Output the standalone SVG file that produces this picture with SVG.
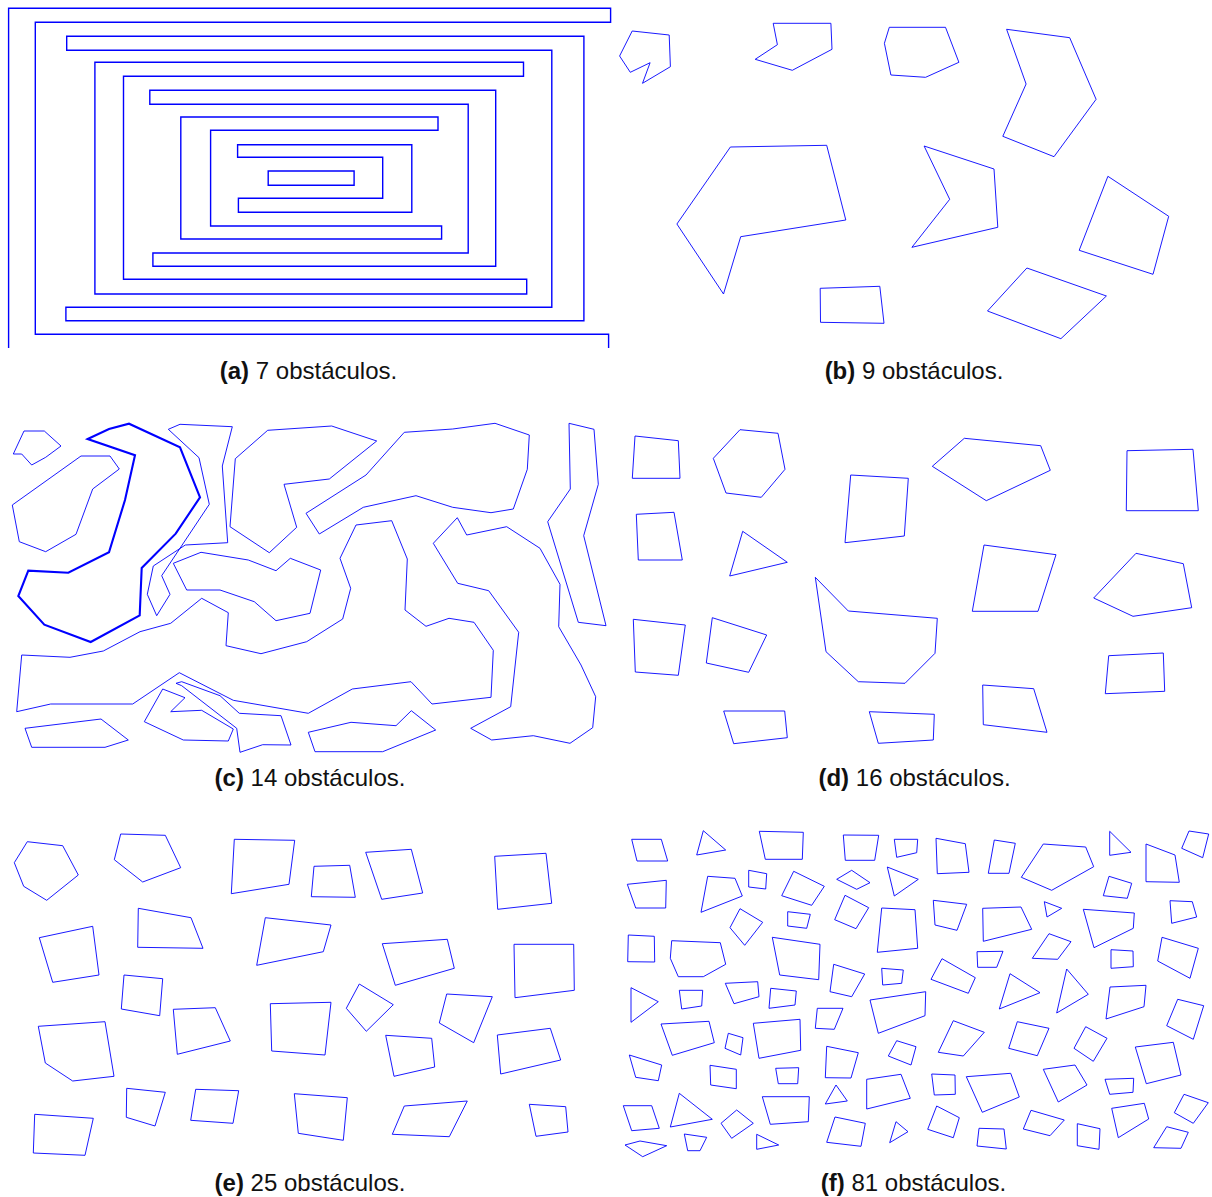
<svg xmlns="http://www.w3.org/2000/svg" width="1212" height="1197" viewBox="0 0 1212 1197">
<style>
polygon,polyline{fill:none;stroke:#0000ff;stroke-width:0.9;stroke-linejoin:miter}
.ma polygon,.ma polyline{stroke-width:1.4}
.thick{stroke-width:2.1 !important}
text{font-family:"Liberation Sans",Arial,sans-serif;font-size:24px;fill:#111;text-anchor:middle}
.lb{font-weight:bold}
</style>
<rect width="1212" height="1197" fill="#fff"/>
<g id="panel-a" class="ma">
<g id="a1"><polyline points="8.6,348 8.6,8.3 610.6,8.3 610.6,22.3 35.3,22.3 35.3,334.3 608.6,334.3 608.6,348"/></g>
<g id="a2"><polygon points="66.7,36.3 583.9,36.3 583.9,320.7 65.9,320.7 65.9,307.3 551.8,307.3 551.8,50.3 66.7,50.3"/></g>
<g id="a3"><polygon points="94.9,62.3 523.5,62.3 523.5,76.3 123.5,76.3 123.5,279.3 526.7,279.3 526.7,294 94.9,294"/></g>
<g id="a4"><polygon points="149.8,90.3 495.7,90.3 495.7,266.3 152.9,266.3 152.9,253 468.2,253 468.2,104.3 149.8,104.3"/></g>
<g id="a5"><polygon points="180.8,117 438,117 438,130.3 210.6,130.3 210.6,226 441.6,226 441.6,239 180.8,239"/></g>
<g id="a6"><polygon points="237.6,144.7 411.8,144.7 411.8,212.3 238.4,212.3 238.4,198.3 382.7,198.3 382.7,157.3 237.6,157.3"/></g>
<g id="a7"><polygon points="268.2,171 354.1,171 354.1,185.3 268.2,185.3"/></g>
</g>
<g id="panel-b">
<g id="b1"><polygon points="619.6,56 632.2,31 669.2,35 670.4,66.7 642.5,83.3 650.1,62.7 630.3,72.3"/></g>
<g id="b2"><polygon points="773.2,23.3 830.9,23.3 832,49.3 792.3,70.3 755.2,59.3 777.4,44.7"/></g>
<g id="b3"><polygon points="889.3,27.3 945.5,27.3 958.9,62.3 925.6,77.3 890.9,75 884.4,43.3"/></g>
<g id="b4"><polygon points="1006.6,29.3 1069.7,37.7 1096.1,99.3 1054,156.7 1002.8,136.3 1026.1,84"/></g>
<g id="b5"><polygon points="730.4,147 826.7,145.3 845.8,220 740.7,236.7 723.5,294 676.9,224"/></g>
<g id="b6"><polygon points="924.1,146 994,169 997.8,227.3 911.9,247.3 949.7,199.3"/></g>
<g id="b7"><polygon points="1107.9,176.3 1168.7,216.3 1153,274.3 1079.2,250.3"/></g>
<g id="b8"><polygon points="820.2,288.3 879.8,286.3 884,323.3 820.5,322.3"/></g>
<g id="b9"><polygon points="1026.9,268 1106.4,296 1060.9,338.7 987.5,311"/></g>
</g>
<g id="panel-c">
<g id="c1"><polygon points="13.3,454 24,431 44.3,431 61,446 45.7,457.3 31.7,465 21.7,454"/></g>
<g id="c2"><polygon points="12.3,505 81,456 110,456 119.3,469 92.7,489 76,534.3 45.7,551.7 19.3,541.7"/></g>
<g id="c3"><polygon class="thick" points="87.7,439 109,429 129,423.7 180,447.3 200,497.3 175.7,533.7 141.7,568 139.7,615.3 90.7,642 44.3,624.7 18.3,596 28.3,570.7 68.3,572.7 109,552.3 125,500 135,455.3"/></g>
<g id="c4"><polygon points="168.3,429.3 180,424.3 232.3,426.7 222.3,466 227.7,542.7 185.3,545 153.3,566 147.3,594.3 156.7,615.7 170,594.3 161.7,575.7 209.3,504.3 199,457.7"/></g>
<g id="c5"><polygon points="173.3,563.3 201,552.3 248.3,560 276,570.7 290.3,558.3 320.7,570 310,613.3 276,620.7 254.3,601.7 220,590 186.7,590"/></g>
<g id="c6"><polygon points="21.7,655 70,657.3 103.3,651 140,631.7 170.7,623.3 201.7,598.3 228.3,612.7 226,645.7 261,653.7 306.7,641.7 342.7,619 350.7,588.3 340,558.3 356,525 391.7,520.7 407.3,559 405,610 426,626.3 449,618.3 474,622.3 493.3,650.3 491,697.3 432,704 411,681.7 352.3,689 308.3,713.3 233.3,700.3 179.3,672.7 132.7,704 50.7,704 16.7,711.7"/></g>
<g id="c7"><polygon points="25,728.3 101,719 128.3,740 105,747.3 31.7,747.3"/></g>
<g id="c8"><polygon points="162.7,689 185,697.7 170.7,711.7 201.7,710.3 233.3,729 228.3,741 183.3,740 144.3,721.7"/></g>
<g id="c9"><polygon points="176,683.3 181.7,681.7 220,695.7 239.3,713.3 281,715.7 291,745 262.7,744.7 240,752.3 236.7,728.3 181.7,685.7"/></g>
<g id="c10"><polygon points="230,526.7 235.3,458.7 267.7,430.3 331.7,426 376.7,441 329.3,479 284,484.3 296.7,527.3 269.3,552.7"/></g>
<g id="c11"><polygon points="404.3,432.3 452.7,429 495,423.3 529.3,435 527.3,469.3 513.3,509 491,512.7 452.7,507.3 416,495.7 363.3,507.3 319.3,534 306,513.3 366,475"/></g>
<g id="c12"><polygon points="457.3,517.7 466.7,535 506.7,526.7 540,548.3 560,584.3 558.7,626.7 581,665 595.7,696.7 592.7,727.7 570,743.3 533.3,735.7 491.7,740 470.7,728.3 510.7,706.7 518.7,632.3 488.7,590.7 457.7,583.3 433.3,543.3"/></g>
<g id="c13"><polygon points="569,423.3 594,429.3 598.3,484.3 583.7,535.7 606,625.7 578.3,622.3 547.7,521.7 570.3,489"/></g>
<g id="c14"><polygon points="308.3,732.3 351,722.3 396,725.7 411.3,710.7 435.7,730 382.7,751.7 315,751.7"/></g>
</g>
<g id="panel-d">
<g id="d1"><polygon points="635,436 678.3,440.7 680,478.3 632.3,478.3"/></g>
<g id="d2"><polygon points="740,429.7 778,433.3 785,469.3 761.3,497.3 726,493 713.3,458.3"/></g>
<g id="d3"><polygon points="850.7,475 908.3,478.3 904.3,536 845,542.7"/></g>
<g id="d4"><polygon points="636.3,514.3 674,512.3 682.3,560 638.3,560"/></g>
<g id="d5"><polygon points="742.7,531.3 787.3,562.3 729.7,576"/></g>
<g id="d6"><polygon points="815.3,577.3 848.3,611 937.3,618.3 935,653.3 905,683.3 858.3,681.7 826,651.7"/></g>
<g id="d7"><polygon points="633.3,619.3 685.3,625 678.3,675.3 635.3,672"/></g>
<g id="d8"><polygon points="712.3,617.7 766.7,635 748.7,672.3 706.3,663"/></g>
<g id="d9"><polygon points="723.7,711 784.7,711 787.3,737.7 733.7,743.7"/></g>
<g id="d10"><polygon points="869.3,711.7 934.3,714.3 933.3,740 878.3,743.3"/></g>
<g id="d11"><polygon points="964.3,438.3 1040.7,445.7 1050.3,470.3 986.3,500.7 932.3,466.3"/></g>
<g id="d12"><polygon points="1127,450.7 1193,449.3 1198.3,510.7 1126.3,510.7"/></g>
<g id="d13"><polygon points="984,545 1056,554.7 1038,611.3 972.3,611.3"/></g>
<g id="d14"><polygon points="1136,553.3 1183.3,563.7 1191.7,607.7 1133,616.3 1093.7,598"/></g>
<g id="d15"><polygon points="1108.7,655.7 1163.3,653 1164.7,691.3 1105.3,693.7"/></g>
<g id="d16"><polygon points="982.7,685 1033.7,688.7 1047,732.3 983.3,724.7"/></g>
</g>
<g id="panel-e">
<g id="e1"><polygon points="27.3,841.7 62.7,845.7 78.3,875 46.7,900.3 23.7,886.3 14.3,862.7"/></g>
<g id="e2"><polygon points="120.7,834 165.3,835.3 180.7,867.7 142.7,882 114.3,859.7"/></g>
<g id="e3"><polygon points="234.3,839.3 294.7,840.3 289,884.3 231.3,893.7"/></g>
<g id="e4"><polygon points="138.3,908.3 191,917.7 203,948.3 137.7,947.3"/></g>
<g id="e5"><polygon points="39.3,937.7 92.7,926.3 99,975 52.7,982.3"/></g>
<g id="e6"><polygon points="265.3,917.7 331,925 323.3,951.7 256.7,965.3"/></g>
<g id="e7"><polygon points="124,975 162.7,978.7 159.7,1015.7 121.3,1009"/></g>
<g id="e8"><polygon points="173.3,1009.3 215.3,1007.7 230.3,1041 177.3,1054.3"/></g>
<g id="e9"><polygon points="270.3,1003.7 331,1002.3 325,1055 271.7,1051"/></g>
<g id="e10"><polygon points="38.3,1026.3 105,1021.7 114,1076.3 72.7,1081 45.3,1063"/></g>
<g id="e11"><polygon points="126.7,1088.3 165.3,1092.3 155,1126 126.3,1117.3"/></g>
<g id="e12"><polygon points="195.7,1089.3 238.7,1090.7 233,1123.3 190.7,1120.3"/></g>
<g id="e13"><polygon points="294.3,1093.7 347.3,1097.7 343.3,1140.3 298.3,1133.3"/></g>
<g id="e14"><polygon points="34.7,1114.3 93.3,1118.3 85,1155.3 33.3,1153"/></g>
<g id="e15"><polygon points="314,866.3 349.7,865.3 355.3,897.3 311.3,896.7"/></g>
<g id="e16"><polygon points="365.7,852.3 411.3,849.3 422.7,893 381.7,899.3"/></g>
<g id="e17"><polygon points="494.7,856.3 546,853.3 551.7,903.3 497.7,909.3"/></g>
<g id="e18"><polygon points="382.3,943.7 447.3,939.3 454.3,968.3 395.3,985.3"/></g>
<g id="e19"><polygon points="514,944.3 573.7,944.3 574.3,990.3 515,997.7"/></g>
<g id="e20"><polygon points="359.3,984 393.3,1004.7 366.3,1031.3 346.3,1008.3"/></g>
<g id="e21"><polygon points="446.7,994 492.3,996.7 473.7,1042.7 439.3,1023"/></g>
<g id="e22"><polygon points="385.7,1035.3 431.7,1038.3 434.7,1067 394,1076.3"/></g>
<g id="e23"><polygon points="497.3,1035 550.3,1028.3 560.7,1060 500.7,1074"/></g>
<g id="e24"><polygon points="404.3,1106 467.3,1101 449.3,1136.7 392.3,1134.3"/></g>
<g id="e25"><polygon points="529.3,1104.3 565.7,1106.7 568,1132 536,1136.3"/></g>
</g>
<g id="panel-f">
<g id="f1"><polygon points="631.7,839.3 661.3,839.3 667.7,861 637,861"/></g>
<g id="f2"><polygon points="703.3,830.7 725.7,850 696.7,855"/></g>
<g id="f3"><polygon points="759.3,831.3 803.3,832.3 802.3,859.3 765.3,859.3"/></g>
<g id="f4"><polygon points="843.3,835 878.7,835.3 874.7,860.3 845.3,860.3"/></g>
<g id="f5"><polygon points="894.3,839.3 917.7,839.3 916.7,852.7 896.7,857.3"/></g>
<g id="f6"><polygon points="627.3,884.3 666.3,880.3 665.7,908 635.7,908"/></g>
<g id="f7"><polygon points="707.7,876.3 735,878.3 742.3,896 701,912.3"/></g>
<g id="f8"><polygon points="748.7,870.3 766.7,873.7 765.7,889 748.7,887"/></g>
<g id="f9"><polygon points="793.7,871.3 824.3,886.3 811.7,905.3 781.7,895.7"/></g>
<g id="f10"><polygon points="851.7,870.3 870,882.7 856.7,889.3 836.7,879.3"/></g>
<g id="f11"><polygon points="887.3,867 918.3,879.3 894.3,896"/></g>
<g id="f12"><polygon points="740,908.7 762.7,922.3 744.7,945.3 730,927.7"/></g>
<g id="f13"><polygon points="787.7,911.7 810.3,914.3 806.7,928.3 787.7,926"/></g>
<g id="f14"><polygon points="845,895.3 868.7,907.7 856,928.7 834.7,919.7"/></g>
<g id="f15"><polygon points="881.7,908 915,909.7 917.7,948.3 877.3,952.3"/></g>
<g id="f16"><polygon points="628.3,935 654.3,936.3 654.7,962 627.7,961.7"/></g>
<g id="f17"><polygon points="671.7,940.7 720.3,942.7 725.7,964.3 703.3,976.7 678.3,976.7 670.3,958.3"/></g>
<g id="f18"><polygon points="772.3,937.3 820,944.3 818.7,979.7 779.7,975"/></g>
<g id="f19"><polygon points="833.7,964.3 864.7,974 851.7,996.7 830,991.7"/></g>
<g id="f20"><polygon points="881.7,968.3 903.3,970 901.7,983.3 882.7,985"/></g>
<g id="f21"><polygon points="936,838.3 965.3,843.7 969,872.3 937.3,873.7"/></g>
<g id="f22"><polygon points="994.3,840 1015.3,843.3 1009,873.3 988.3,873.3"/></g>
<g id="f23"><polygon points="1043.3,844 1085.7,847 1093.7,866.7 1051.7,890.3 1021.3,877.3"/></g>
<g id="f24"><polygon points="1109.7,831.3 1131,852.3 1109.7,855.3"/></g>
<g id="f25"><polygon points="1189,831 1208.7,834 1202.7,857.7 1181.7,848.3"/></g>
<g id="f26"><polygon points="1146,844 1175,855 1179.3,882.3 1146,881.7"/></g>
<g id="f27"><polygon points="1109,876.3 1131.7,883.3 1127.3,898.3 1103.3,895.7"/></g>
<g id="f28"><polygon points="933.3,900.3 966.7,904.3 957,930.3 935,925"/></g>
<g id="f29"><polygon points="982.7,908.3 1021,907 1031.7,929.3 983.3,941.3"/></g>
<g id="f30"><polygon points="1044.3,901.7 1061.7,908.3 1047,917"/></g>
<g id="f31"><polygon points="1083.3,909.3 1134.3,913 1133.3,928.3 1094,947.7"/></g>
<g id="f32"><polygon points="1170,900.7 1192.3,901.7 1196.7,917 1171.7,923.3"/></g>
<g id="f33"><polygon points="977,951.7 1003,951.3 996.7,967.3 977.7,967.3"/></g>
<g id="f34"><polygon points="1049,933.7 1071,941.7 1057.7,959.3 1032.3,958.3"/></g>
<g id="f35"><polygon points="1111,949.7 1133,951 1133.3,966.7 1111,968.3"/></g>
<g id="f36"><polygon points="1162,937.3 1198.3,948.3 1190,978.3 1157.7,961"/></g>
<g id="f37"><polygon points="942,958.7 975.3,977.7 968.3,993.3 931,979.3"/></g>
<g id="f38"><polygon points="1010,973.7 1040,992.7 999.3,1009"/></g>
<g id="f39"><polygon points="1066.7,969 1088.3,994.3 1056.7,1013"/></g>
<g id="f40"><polygon points="1110,987 1146,985.3 1144,1006.7 1106,1019"/></g>
<g id="f41"><polygon points="870,1000 925.7,991.7 925,1015.7 878.3,1033.3"/></g>
<g id="f42"><polygon points="631,987.7 658.3,1001.7 631,1022.3"/></g>
<g id="f43"><polygon points="679.3,990.3 702.7,990.3 701.7,1006 681.7,1009"/></g>
<g id="f44"><polygon points="725.3,983.3 757.7,981.7 759,996.7 734,1003.7"/></g>
<g id="f45"><polygon points="770.7,988.3 796.3,991 795,1005 769,1008.3"/></g>
<g id="f46"><polygon points="817.3,1008.3 843,1008.3 834.3,1029.3 815.3,1028.3"/></g>
<g id="f47"><polygon points="661,1024 709,1021.3 714.3,1042.7 672.3,1055.3"/></g>
<g id="f48"><polygon points="728.3,1033.3 743,1037.7 740.7,1055 725,1048.3"/></g>
<g id="f49"><polygon points="753.3,1023.3 800,1019.3 800.7,1050.3 759,1058.3"/></g>
<g id="f50"><polygon points="629.3,1055 661.7,1065 658.3,1080.7 635.7,1077.3"/></g>
<g id="f51"><polygon points="710,1065.3 736.3,1069.3 736.3,1088.7 710.7,1085"/></g>
<g id="f52"><polygon points="775.7,1068.3 798.7,1067.7 797.7,1083.7 778.3,1083.7"/></g>
<g id="f53"><polygon points="826.7,1046.3 858.3,1052.7 851,1078 825.3,1077.7"/></g>
<g id="f54"><polygon points="896.7,1040.7 916,1046.7 911,1065 888.3,1056"/></g>
<g id="f55"><polygon points="866.7,1079.3 901,1074.3 910.3,1098.3 866.7,1109"/></g>
<g id="f56"><polygon points="836,1085 847.3,1101 825.3,1104"/></g>
<g id="f57"><polygon points="623.3,1105.7 651.7,1105.7 659.3,1128.3 631.7,1130.7"/></g>
<g id="f58"><polygon points="679.3,1093.3 712.3,1119.3 670.3,1127"/></g>
<g id="f59"><polygon points="736.7,1110 753.3,1123.3 731.7,1138.3 721,1123.3"/></g>
<g id="f60"><polygon points="762.3,1096.7 809.3,1096.7 808.3,1121.7 770.3,1124.3"/></g>
<g id="f61"><polygon points="835,1117 865.3,1123.3 861,1146.3 826.7,1142.3"/></g>
<g id="f62"><polygon points="896,1121.7 908,1131.7 889.7,1142.7"/></g>
<g id="f63"><polygon points="625,1145 640,1141 666.7,1145.7 642.7,1156.7"/></g>
<g id="f64"><polygon points="684.3,1134 706.7,1137.3 700,1150.7 687.7,1150.7"/></g>
<g id="f65"><polygon points="756.7,1134.3 778.7,1145 756.7,1149.3"/></g>
<g id="f66"><polygon points="953.3,1020.7 984.3,1032.3 963.3,1056 938.3,1052.3"/></g>
<g id="f67"><polygon points="1017.3,1021.7 1049,1028.3 1037.3,1055.7 1008.7,1048.3"/></g>
<g id="f68"><polygon points="1085.7,1026.7 1107,1038.3 1093.3,1061.3 1074,1048.3"/></g>
<g id="f69"><polygon points="1177.7,999.3 1203.7,1005.7 1193.3,1039.3 1166.7,1025.7"/></g>
<g id="f70"><polygon points="1135.3,1047 1173.3,1042.3 1181,1075 1146.3,1083.7"/></g>
<g id="f71"><polygon points="931.7,1074 955,1075 955.3,1094.3 934.3,1095"/></g>
<g id="f72"><polygon points="966.3,1076.7 1010.7,1073.3 1019.3,1097 982.3,1112.3"/></g>
<g id="f73"><polygon points="1043.3,1069.3 1075,1065 1087,1085 1058.3,1102"/></g>
<g id="f74"><polygon points="1105,1079.3 1133.7,1078.3 1133,1092.3 1109.7,1094.3"/></g>
<g id="f75"><polygon points="936.7,1106 959.3,1117.7 953.3,1137.7 927.7,1129.3"/></g>
<g id="f76"><polygon points="979,1128.3 1004,1129 1006.3,1149 977,1146"/></g>
<g id="f77"><polygon points="1031,1110.3 1064.3,1120 1050,1135.7 1023.3,1129"/></g>
<g id="f78"><polygon points="1077.3,1123.7 1100,1128.7 1099,1149.3 1077.3,1145.7"/></g>
<g id="f79"><polygon points="1111.7,1108.3 1144.3,1103.3 1148.7,1119 1118.3,1137.7"/></g>
<g id="f80"><polygon points="1184,1094.3 1208.3,1102.7 1193.3,1123.3 1174.3,1112.7"/></g>
<g id="f81"><polygon points="1166.7,1126.7 1188.3,1132.3 1181,1148.3 1153.7,1147.7"/></g>
</g>
<g id="connectors"></g>
<g id="captions">
<text x="308.5" y="379"><tspan class="lb">(a)</tspan> 7 obstáculos.</text>
<text x="914" y="379"><tspan class="lb">(b)</tspan> 9 obstáculos.</text>
<text x="310" y="786"><tspan class="lb">(c)</tspan> 14 obstáculos.</text>
<text x="914.5" y="786"><tspan class="lb">(d)</tspan> 16 obstáculos.</text>
<text x="310" y="1191"><tspan class="lb">(e)</tspan> 25 obstáculos.</text>
<text x="913.5" y="1191"><tspan class="lb">(f)</tspan> 81 obstáculos.</text>
</g>
</svg>
